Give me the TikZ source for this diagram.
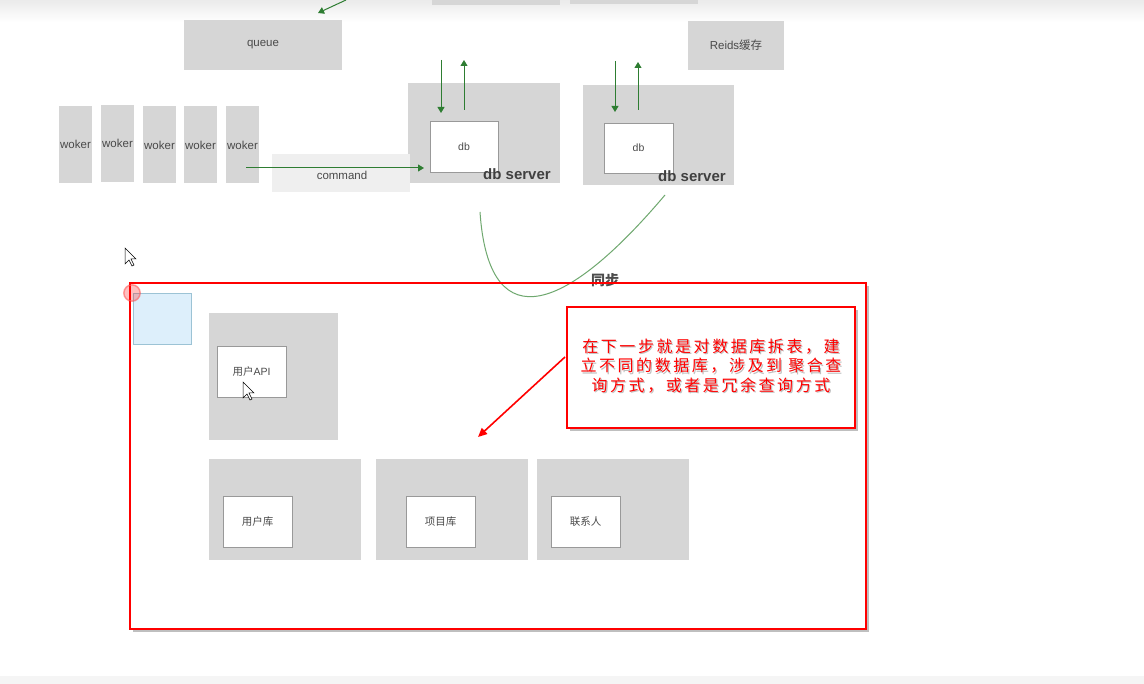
\documentclass[tikz,border=0pt]{standalone}
\usepackage{fontspec}
\setmainfont{Liberation Sans}
\newfontfamily\cjk{Noto Sans CJK SC}
\newfontfamily\notefont{Noto Sans CJK SC}[LetterSpace=16]
\usetikzlibrary{arrows.meta}
\definecolor{boxgray}{HTML}{D6D6D6}
\definecolor{lightgray2}{HTML}{EFEFEF}
\definecolor{arrgreen}{HTML}{2E7D32}
\definecolor{curvegreen}{HTML}{6FA86F}
\definecolor{bluefill}{HTML}{DDEFFB}
\definecolor{blueline}{HTML}{9CC3D5}
\definecolor{txtgray}{HTML}{4A4A4A}
\tikzset{
  graybox/.style={fill=boxgray, draw=none, inner sep=0pt, text=txtgray, font=\fontsize{11.5}{13}\selectfont},
  whitebox/.style={fill=white, draw=gray!80, line width=0.6pt, inner sep=0pt, text=txtgray, font=\fontsize{10.5}{12}\selectfont},
  garrow/.style={draw=arrgreen, line width=1pt, -{Triangle[width=7pt,length=6pt]}},
  srvlabel/.style={font=\bfseries\fontsize{15}{17}\selectfont, text=black!75, inner sep=0pt},
  cursor/.style={fill=white, draw=black, line width=0.5pt},
}
\newcommand{\mycursor}[1]{\draw[cursor] (#1) -- ++(0,16) -- ++(4,-4) -- ++(3,6) -- ++(2,-1) -- ++(-3,-6) -- ++(5,0) -- cycle;}
\begin{document}
\begin{tikzpicture}[x=1pt,y=-1pt]
\useasboundingbox (0,0) rectangle (1144,684);
\fill[white] (0,0) rectangle (1144,684);
\shade[top color=black!8, bottom color=white] (0,0) rectangle (1144,22);
\fill[black!4] (0,676) rectangle (1144,684);
% top partial boxes
\fill[boxgray] (432,0) rectangle (560,5);
\fill[boxgray] (570,0) rectangle (698,4);
\coordinate (ta) at (346,0);
\coordinate (tb) at (318,13);
\draw[garrow] (ta) -- (tb);
% queue & redis
\node[graybox, minimum width=158pt, minimum height=50pt] (queue) at (263,45) {queue};
\node[graybox, minimum width=96pt, minimum height=49pt] (redis) at (736,45.5) {Reids{\cjk 缓存}};
% db servers
\node[graybox, minimum width=152pt, minimum height=100pt] (srv1) at (484,133) {};
\node[whitebox, minimum width=68pt, minimum height=51pt] (db1) at (464,146.5) {db};
\node[srvlabel] (srv1l) at (517,174) {db server};
\node[graybox, minimum width=151pt, minimum height=100pt] (srv2) at (658.5,135) {};
\node[whitebox, minimum width=69pt, minimum height=50pt] (db2) at (638.5,148) {db};
\node[srvlabel] (srv2l) at (692,176) {db server};
\coordinate (a1s) at (441,60); \coordinate (a1e) at (441,113);
\coordinate (a2s) at (464,110); \coordinate (a2e) at (464,60);
\coordinate (a3s) at (615,61); \coordinate (a3e) at (615,112);
\coordinate (a4s) at (638,110); \coordinate (a4e) at (638,62);
\draw[garrow] (a1s) -- (a1e);
\draw[garrow] (a2s) -- (a2e);
\draw[garrow] (a3s) -- (a3e);
\draw[garrow] (a4s) -- (a4e);
% workers
\foreach \i/\x/\y in {1/75.5/144.5, 2/117.5/143.5, 3/159.5/145, 4/200.5/145, 5/242.5/145}{
  \node[graybox, minimum width=33pt, minimum height=77pt] (w\i) at (\x,\y) {woker};
}
\node[fill=lightgray2, inner sep=0pt, minimum width=138pt, minimum height=38pt] (cmd) at (341,173) {};
\node[text=txtgray, font=\fontsize{11.5}{13}\selectfont, inner sep=0pt] (cmdl) at (342,175) {command};
\coordinate (c1) at (246,168);
\coordinate (c2) at (424,168);
\draw[garrow] (c1) -- (c2);
% sync curve
\coordinate (s1) at (480,212);
\coordinate (s2) at (665,195);
\draw[curvegreen, line width=1pt] (s1) .. controls (488,330) and (555,325) .. (s2);
\node[font=\cjk\bfseries\fontsize{14}{16}\selectfont, text=black!70, inner sep=0pt] (sync) at (605,280) {同步};
% cursor top
\mycursor{125,248}
% big frame with shadow
\draw[black!25, line width=2pt] (133,631) -- (868,631) -- (868,286);
\draw[red, line width=1.8pt] (130,283) rectangle (866,629);
% blue box
\node[fill=bluefill, draw=blueline, line width=0.6pt, minimum width=58pt, minimum height=51pt, inner sep=0pt] (blue) at (162,318.5) {};
\fill[red, opacity=0.25] (132,293) circle (9);
\draw[red!60, line width=1.2pt, opacity=0.6] (132,293) circle (8);
% api group
\node[graybox, minimum width=129pt, minimum height=127pt] (apig) at (273.5,376.5) {};
\node[whitebox, minimum width=69pt, minimum height=51pt] (api) at (251.5,371.5) {{\cjk 用户}API};
\mycursor{243,382}
% bottom groups
\node[graybox, minimum width=152pt, minimum height=101pt] (g1) at (285,509.5) {};
\node[whitebox, font=\cjk\fontsize{10.5}{12}\selectfont, minimum width=69pt, minimum height=51pt] (udb) at (257.5,521.5) {用户库};
\node[graybox, minimum width=152pt, minimum height=101pt] (g2) at (452,509.5) {};
\node[whitebox, font=\cjk\fontsize{10.5}{12}\selectfont, minimum width=69pt, minimum height=51pt] (pdb) at (440.5,521.5) {项目库};
\node[graybox, minimum width=152pt, minimum height=101pt] (g3) at (613,509.5) {};
\node[whitebox, font=\cjk\fontsize{10.5}{12}\selectfont, minimum width=69pt, minimum height=51pt] (cdb) at (585.5,521.5) {联系人};
% note
\draw[black!25, line width=2pt] (570,430) -- (857,430) -- (857,310);
\node[draw=red, line width=1.5pt, fill=white, minimum width=288pt, minimum height=121pt, inner sep=0pt] (note) at (711,367.5) {};
\foreach \dx/\dy/\c in {1.2/1.2/gray!50, 0/0/red}{
  \node[text=\c, font=\notefont\fontsize{16}{19.5}\selectfont, align=center, inner sep=0pt] at (711+\dx,366+\dy) {在下一步就是对数据库拆表，建\\立不同的数据库，涉及到 聚合查\\询方式，或者是冗余查询方式};
}
\coordinate (ra) at (565,357);
\coordinate (rb) at (478,437);
\draw[red, line width=1.6pt, -{Triangle[width=8pt,length=9pt]}] (ra) -- (rb);
\end{tikzpicture}
\end{document}
